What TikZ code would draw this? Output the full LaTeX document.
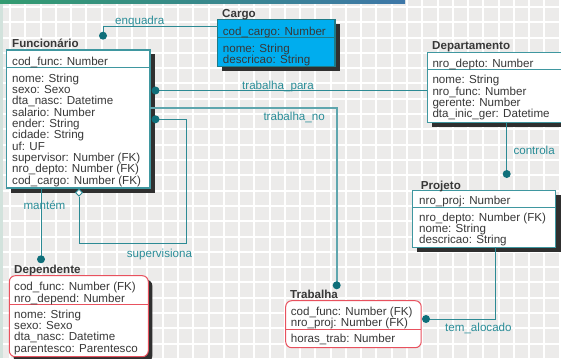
\documentclass[tikz,border=0pt]{standalone}
\usepackage{fontspec}
\setmainfont{Liberation Sans}
\usetikzlibrary{calc,shapes.geometric}
\definecolor{bgc}{HTML}{ECEBEA}
\definecolor{tealb}{HTML}{3F97A0}
\definecolor{tealdark}{HTML}{1E7A86}
\definecolor{tealline}{HTML}{2C8A94}
\definecolor{tealthick}{HTML}{5FA6AE}
\definecolor{tealdot}{HTML}{0F6F7A}
\definecolor{tealtxt}{HTML}{2A8D98}
\definecolor{shadowc}{HTML}{2F2F2F}
\definecolor{cyanfill}{HTML}{00ADEE}
\definecolor{redb}{HTML}{E8515E}
\definecolor{txtc}{HTML}{383838}
\definecolor{stripc}{HTML}{D2E2DC}
\definecolor{barl}{HTML}{339B70}
\definecolor{barr}{HTML}{3E77A8}
\begin{document}
\begin{tikzpicture}[x=1pt,y=-1pt,
  font=\fontsize{11.6}{11.3}\selectfont,
  attr/.style={anchor=base west, inner sep=0pt, text=txtc},
  ttl/.style={anchor=base west, inner sep=0pt, text=txtc, font=\fontsize{11.6}{11.3}\selectfont\bfseries},
  lbl/.style={anchor=base west, inner sep=0pt, text=tealtxt},
  ebox/.style={draw=tealb, line width=1.1pt, fill=white, anchor=north west, inner sep=0pt, outer sep=0pt},
  rbox/.style={draw=redb, line width=1pt, fill=white, rounded corners=6pt, anchor=north west, inner sep=0pt, outer sep=0pt},
  sepline/.style={draw=tealb, line width=1.1pt},
  redsep/.style={draw=redb, line width=1pt},
  conn/.style={draw=tealline, line width=0.9pt},
  thickconn/.style={draw=tealthick, line width=1.8pt},
  dot/.style={circle, fill=tealdot, minimum size=8pt, inner sep=0pt},
  diam/.style={diamond, draw=tealline, fill=white, line width=0.9pt, minimum size=7pt, inner sep=0pt},
]
\useasboundingbox (0,0) rectangle (561,358);
\clip (0,0) rectangle (561,358);
% background
\fill[bgc] (0,0) rectangle (561,358);
\foreach \i in {0,...,36} \draw[white, line width=2pt] ({10+15.27*\i},0) -- ({10+15.27*\i},358);
\foreach \j in {0,...,23} \draw[white, line width=2pt] (0,{7+15.3*\j}) -- (561,{7+15.3*\j});
\fill[stripc] (0,0) rectangle (3,358);
\shade[left color=barl, right color=barr] (0,0) rectangle (405,3.7);

% ---------- Funcionario ----------
\fill[shadowc] (11.2,54.5) rectangle (155.3,192.5);
\node[ebox, minimum width=143.3pt, minimum height=138pt] (func) at (6.7,50) {};
\draw[sepline] (func.west |- 0,67.7) -- (func.east |- 0,67.7);
\node[ttl] (functitle) at (12,48) {Funcionário};
\node[attr] (fpk) at (12,65.3) {cod\_func: Number};
\foreach \t [count=\i] in {nome: String, sexo: Sexo, dta\_nasc: Datetime, salario: Number, ender: String, cidade: String, uf: UF, supervisor: Number (FK), nro\_depto: Number (FK), cod\_cargo: Number (FK)}
  \node[attr] (fa\i) at (12,{82.3+11.3*(\i-1)}) {\t};

% ---------- Cargo ----------
\fill[shadowc] (222.2,23.8) rectangle (339.5,71.2);
\node[ebox, draw=tealdark, fill=cyanfill, minimum width=117.3pt, minimum height=47.4pt] (cargo) at (217.7,19.3) {};
\draw[sepline, draw=tealdark] (cargo.west |- 0,37.3) -- (cargo.east |- 0,37.3);
\node[ttl] (cargotitle) at (222,17.6) {Cargo};
\node[attr] (cpk) at (222.7,35.7) {cod\_cargo: Number};
\node[attr] (ca1) at (222.7,52.3) {nome: String};
\node[attr] (ca2) at (222.7,63.3) {descricao: String};

% ---------- Departamento ----------
\fill[shadowc] (431.8,57.2) rectangle (570,126.7);
\node[ebox, minimum width=140pt, minimum height=70pt] (dept) at (427.3,52.7) {};
\draw[sepline] (dept.west |- 0,69.3) -- (dept.east |- 0,69.3);
\node[ttl] (depttitle) at (432,49.7) {Departamento};
\node[attr] (dpk) at (432.3,67.3) {nro\_depto: Number};
\foreach \t [count=\i] in {nome: String, nro\_func: Number, gerente: Number, dta\_inic\_ger: Datetime}
  \node[attr] (da\i) at (432.3,{84+11.3*(\i-1)}) {\t};

% ---------- Projeto ----------
\fill[shadowc] (416.8,195.2) rectangle (561,251.7);
\node[ebox, minimum width=143.4pt, minimum height=56.6pt] (proj) at (412.3,190.7) {};
\draw[sepline] (proj.west |- 0,207.3) -- (proj.east |- 0,207.3);
\node[ttl] (projtitle) at (420.7,189) {Projeto};
\node[attr] (ppk) at (419,204.7) {nro\_proj: Number};
\foreach \t [count=\i] in {nro\_depto: Number (FK), nome: String, descricao: String}
  \node[attr] (pa\i) at (419,{221.3+11.3*(\i-1)}) {\t};

% ---------- Dependente ----------
\fill[shadowc, rounded corners=6pt] (13.3,279.7) rectangle (152.3,362);
\node[rbox, minimum width=139pt, minimum height=81pt] (dep) at (9.3,275.7) {};
\draw[redsep] (dep.west |- 0,304.3) -- (dep.east |- 0,304.3);
\node[ttl] (deptitle2) at (14,273.3) {Dependente};
\node[attr] (epk1) at (14,290.7) {cod\_func: Number (FK)};
\node[attr] (epk2) at (14,302) {nro\_depend: Number};
\foreach \t [count=\i] in {nome: String, sexo: Sexo, dta\_nasc: Datetime, parentesco: Parentesco}
  \node[attr] (ea\i) at (14,{318.3+11.3*(\i-1)}) {\t};

% ---------- Trabalha ----------
\node[rbox, minimum width=135.5pt, minimum height=47pt] (trab) at (285.7,300.7) {};
\draw[redsep] (trab.west |- 0,329.3) -- (trab.east |- 0,329.3);
\node[ttl] (trabtitle) at (290,298) {Trabalha};
\node[attr] (tpk1) at (290.7,315) {cod\_func: Number (FK)};
\node[attr] (tpk2) at (290.7,326.3) {nro\_proj: Number (FK)};
\node[attr] (ta1) at (290.7,342.3) {horas\_trab: Number};

% ---------- connector end points ----------
\coordinate (eqd) at (103,35.7);
\coordinate (tpd) at (155.5,90.5);
\coordinate (svd) at (155.5,119.3);
\coordinate (tnd) at (336.7,285.3);
\coordinate (mtd) at (41,259.3);
\coordinate (ctd) at (506.7,174);
\coordinate (tad) at (426,319);
\coordinate (svc1) at (186.7,243.3);

% ---------- connectors ----------
\draw[conn] (eqd) |- (cargo.west |- 0,26);
\draw[conn] (tpd) -- (dept.west |- 0,90.5);
\draw[thickconn] (func.east |- 0,107.7) -| (tnd);
\node[diam] (supd) at (79,192.6) {};
\draw[conn] (supd.south) |- (svc1) |- (svd);
\draw[conn] (func.south -| mtd) -- (mtd);
\draw[conn] (dept.south -| ctd) -- (ctd);
\draw[conn] (proj.south -| 495,0) |- (tad);

% ---------- dots ----------
\foreach \p in {eqd,tpd,svd,tnd,mtd,ctd,tad} \node[dot] (dot\p) at (\p) {};

% ---------- labels ----------
\node[lbl] (lenq) at (115,25) {enquadra};
\node[lbl] (ltp) at (242,89.3) {trabalha\_para};
\node[lbl] (ltn) at (263.3,120.7) {trabalha\_no};
\node[lbl] (lsup) at (126.7,257) {supervisiona};
\node[lbl] (lman) at (23.3,209.3) {mantém};
\node[lbl] (lctl) at (513.3,154) {controla};
\node[lbl] (ltem) at (445,331.7) {tem\_alocado};
\end{tikzpicture}
\end{document}
